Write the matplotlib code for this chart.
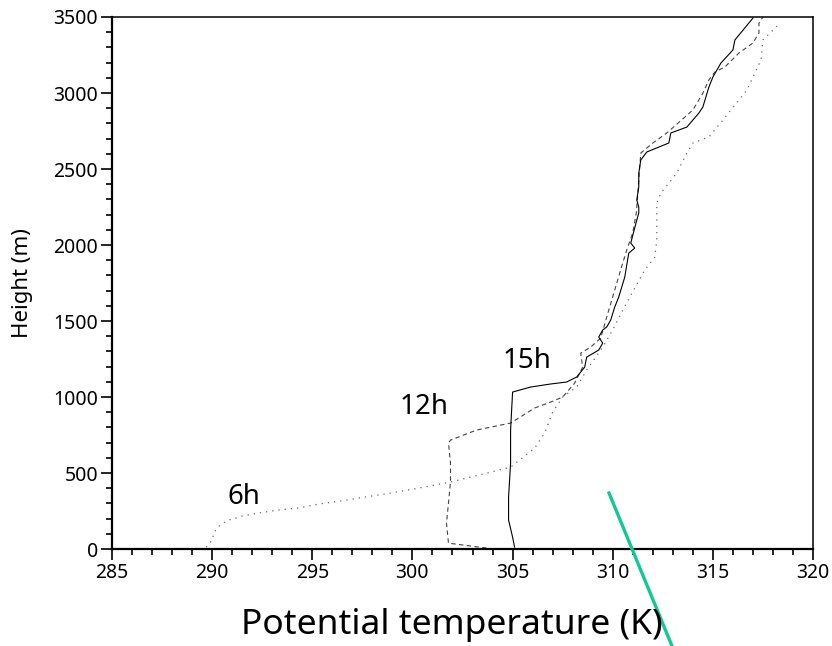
import matplotlib
matplotlib.use("Agg")
from matplotlib import pyplot as plt
from matplotlib.lines import Line2D
from matplotlib.ticker import MultipleLocator

plt.rcParams['font.family'] = ['Noto Sans', 'DejaVu Sans']

# 6h profile (dotted)
theta_6h = [289.7, 290.0, 290.1, 290.4, 290.8, 291.2, 291.5, 292.3, 293.3, 294.3,
            295.3, 296.7, 297.6, 298.9, 300.3, 301.9, 304.9, 306.1, 306.6, 307.0,
            307.5, 308.2, 308.7, 309.5, 310.0, 310.5, 311.1, 311.6, 312.1, 312.2,
            312.2, 312.2, 312.4, 313.2, 313.7, 314.0, 314.8, 315.5, 316.3, 316.7,
            317.4, 317.5, 318.0, 318.2]
height_6h = [13, 59, 112, 158, 191, 204, 217, 237, 257, 270,
             296, 322, 342, 368, 401, 441, 539, 664, 763, 901,
             1000, 1066, 1178, 1329, 1441, 1572, 1717, 1836, 1921, 2033,
             2184, 2276, 2342, 2474, 2605, 2671, 2711, 2822, 2954, 3020,
             3217, 3349, 3414, 3440]

# 12h profile (dashed)
theta_12h = [303.7, 301.8, 301.7, 301.8, 301.9, 301.9, 301.8, 301.9, 303.2, 304.9,
             306.1, 306.9, 307.5, 308.1, 308.5, 308.4, 308.9, 309.4, 309.7, 310.1,
             310.5, 310.7, 311.0, 311.2, 311.2, 311.4, 312.0, 312.7, 314.0, 314.5,
             314.8, 315.1, 315.6, 316.3, 317.0, 317.3, 317.3, 317.5]
height_12h = [7, 39, 171, 303, 441, 566, 697, 717, 783, 829,
              928, 967, 1000, 1092, 1197, 1289, 1329, 1388, 1526, 1704,
              1882, 1967, 2079, 2230, 2250, 2605, 2671, 2737, 2888, 2999,
              3086, 3138, 3171, 3263, 3329, 3395, 3460, 3500]

# 15h profile (solid)
theta_15h = [305.1, 305.0, 304.8, 304.8, 304.9, 304.9, 305.0, 305.9, 306.9, 307.7,
             308.2, 308.6, 308.7, 309.3, 309.5, 309.3, 309.5, 309.7, 309.9, 310.1,
             310.3, 310.6, 310.8, 311.1, 310.9, 311.2, 311.3, 311.3, 311.2, 311.3,
             311.3, 311.4, 311.7, 312.8, 312.9, 313.7, 314.3, 314.5, 314.8, 315.0,
             315.4, 316.0, 316.1, 317.0]
height_15h = [13, 79, 191, 342, 566, 783, 1033, 1066, 1086, 1099,
              1132, 1197, 1263, 1309, 1355, 1395, 1441, 1461, 1507, 1592,
              1658, 1789, 1947, 1980, 2013, 2164, 2211, 2250, 2296, 2382,
              2474, 2559, 2612, 2671, 2737, 2776, 2868, 2908, 3039, 3105,
              3197, 3283, 3349, 3493]

labels = ['6h', '12h', '15h']
label_pos = [(291.6, 342), (300.6, 934), (305.7, 1237)]

fig = plt.figure(figsize=(8.32, 6.46), dpi=100)
ax = fig.add_axes([0.1346, 0.150, 0.8426, 0.8237])

ax.plot(theta_6h, height_6h, color='#666666', lw=0.9, linestyle=(0, (1, 4)))
ax.plot(theta_12h, height_12h, color='#444444', lw=0.8, linestyle=(0, (4, 3)))
ax.plot(theta_15h, height_15h, color='black', lw=0.8)

for txt, (x, y) in zip(labels, label_pos):
    ax.text(x, y, txt, fontsize=20, ha='center', va='center')

ax.set_xlim(285, 320)
ax.set_ylim(0, 3500)
ax.xaxis.set_major_locator(MultipleLocator(5))
ax.xaxis.set_minor_locator(MultipleLocator(1))
ax.yaxis.set_major_locator(MultipleLocator(500))
ax.yaxis.set_minor_locator(MultipleLocator(100))
ax.tick_params(which='both', direction='out', top=False, right=False,
               labelsize=14, width=1.2)
ax.tick_params(which='major', length=8, pad=2)
ax.tick_params(which='minor', length=4.5)
for side in ['left', 'bottom']:
    ax.spines[side].set_linewidth(1.6)
for side in ['top', 'right']:
    ax.spines[side].set_linewidth(1.1)

ax.set_ylabel('Height (m)', fontsize=16)
ax.yaxis.set_label_coords(-0.112, 0.5)
fig.text(452 / 832, 1 - 625 / 646, 'Potential temperature (K)',
         fontsize=25.5, ha='center', va='center')

# pen stroke across the lower right
fig.add_artist(Line2D([0.732, 0.8077], [0.2368, 0.0], transform=fig.transFigure,
                      color='#12c995', lw=2.4))

fig.savefig('out.png', dpi=100)
